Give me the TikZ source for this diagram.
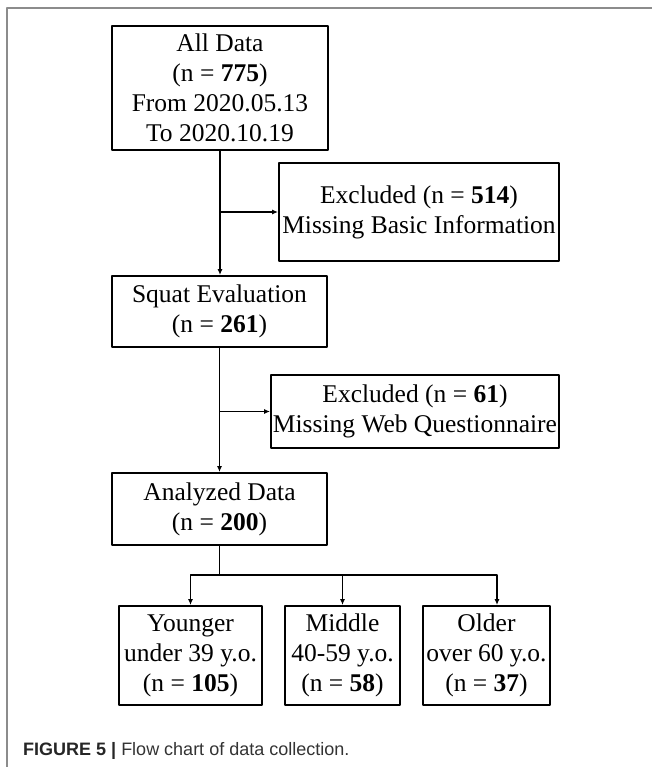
\documentclass[tikz,border=0pt]{standalone}
\usepackage{fontspec}
\setmainfont{Liberation Serif}
\setsansfont{Liberation Sans}
\usetikzlibrary{arrows.meta,calc,positioning}
\definecolor{framegray}{HTML}{8C8C8C}
\definecolor{capgray}{HTML}{333333}
\tikzset{
  box/.style={draw, line width=1.9pt, align=center, inner sep=0pt,
    font=\fontsize{25.5}{30}\selectfont},
  link/.style={line width=1.7pt},
  arr/.style={link, -{Latex[length=6pt,width=5pt]}}
}

\begin{document}
\begin{tikzpicture}[x=1pt,y=-1pt,line join=round]
\useasboundingbox (0,0) rectangle (652,767);
% page frame
\draw[framegray,line width=1.3pt] (652,8) -- (7,8) -- (7,767);
% main column
\node[box,minimum width=216pt,minimum height=124pt] (all) at (220,88) {All Data\\(n = \textbf{775})\\From 2020.05.13\\To 2020.10.19};
\node[box,minimum width=280pt,minimum height=98pt] (ex1) at (419,212) {Excluded (n = \textbf{514})\\Missing Basic Information};
\node[box,minimum width=215pt,minimum height=71pt] (squat) at (219.5,311.5) {Squat Evaluation\\(n = \textbf{261})};
\node[box,minimum width=288pt,minimum height=73pt] (ex2) at (415,411.5) {Excluded (n = \textbf{61})\\Missing Web Questionnaire};
\node[box,minimum width=215pt,minimum height=72pt] (ana) at (219.5,509) {Analyzed Data\\(n = \textbf{200})};
% age groups
\node[box,minimum width=143pt,minimum height=99pt] (young) at (190.5,655.5) {Younger\\under 39 y.o.\\(n = \textbf{105})};
\node[box,minimum width=115pt,minimum height=99pt] (mid) at (342.5,655.5) {Middle\\40-59 y.o.\\(n = \textbf{58})};
\node[box,minimum width=127pt,minimum height=99pt] (old) at (486.5,655.5) {Older\\over 60 y.o.\\(n = \textbf{37})};
% connectors
\coordinate (j1) at (all.south |- ex1.west);
\coordinate (j2) at (all.south |- ex2.west);
\coordinate (br) at (ana.south |- 0,575);
\draw[arr] (all.south) -- (all.south |- squat.north);
\draw[arr] (j1) -- (ex1.west);
\draw[arr] (squat.south) -- (ana.north);
\draw[arr] (j2) -- (ex2.west);
\draw[link] (ana.south) -- (br);
\draw[arr] (br) -| (young.north);
\draw[arr] (br) -| (mid.north);
\draw[arr] (br) -| ([xshift=10.5pt]old.north);
% caption
\node[anchor=base west,inner sep=0pt,font=\sffamily\fontsize{18}{20}\selectfont,text=capgray] (cap) at (23,755)
  {\textcolor{black!85}{\bfseries FIGURE 5 |} Flow chart of data collection.};
\end{tikzpicture}
\end{document}
